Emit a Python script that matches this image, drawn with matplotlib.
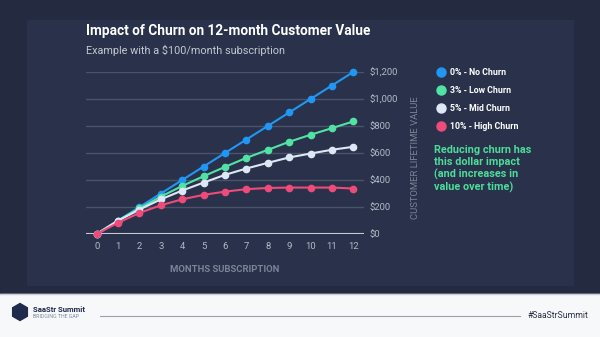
import matplotlib.pyplot as plt
from matplotlib.lines import Line2D
from matplotlib.patches import Rectangle, RegularPolygon

plt.rcParams['font.family'] = ['Roboto', 'DejaVu Sans']

# --- data ---
months = list(range(13))
no_churn = [0, 100, 200, 300, 400, 500, 600, 700, 800, 900, 1000, 1100, 1200]
low_churn = [0, 100, 190, 277, 356, 428, 497, 564, 623, 683, 735, 784, 834]
mid_churn = [0, 99, 181, 257, 322, 381, 438, 485, 527, 567, 596, 624, 646]
high_churn = [0, 84, 156, 213, 257, 290, 314, 332, 341, 344, 344, 344, 337]

series_labels = ["0% - No Churn", "3% - Low Churn", "5% - Mid Churn", "10% - High Churn"]
series_colors = ["#2196f3", "#50e3a4", "#dde8f7", "#ef4b7a"]
y_ticks = [0, 200, 400, 600, 800, 1000, 1200]
y_tick_labels = ["$0", "$200", "$400", "$600", "$800", "$1,000", "$1,200"]

W, H = 600, 337
fig = plt.figure(figsize=(6, 3.37), dpi=100)
fig.patch.set_facecolor("#242a3f")


def fx(px):
    return px / W


def fy(py):
    return 1 - py / H


# inner panel + footer (kept behind the axes)
fig.patches.append(Rectangle((fx(27), fy(285)), fx(546), (285 - 20) / H,
                             transform=fig.transFigure, color="#29324a", zorder=-5))
fig.patches.append(Rectangle((0, 0), 1, fy(294), transform=fig.transFigure,
                             color="#f7f8fa", zorder=-5))
fig.lines.append(Line2D([0, 1], [fy(294), fy(294)], transform=fig.transFigure,
                        color="#c9ced8", lw=1, zorder=-4))

fig.text(fx(86), fy(31), "Impact of Churn on 12-month Customer Value", color="white",
         fontsize=9.8, fontweight="bold", va="center", ha="left")
fig.text(fx(86), fy(50), "Example with a $100/month subscription", color="#c3c8d3",
         fontsize=7.8, va="center", ha="left")

ax = fig.add_axes([fx(86), fy(234), fx(278), (234 - 72) / H])
ax.set_facecolor("none")
ax.set_xlim(-0.5, 12.5)
ax.set_ylim(0, 1200)

all_series = [no_churn, low_churn, mid_churn, high_churn]
for vals, c in zip(all_series, series_colors):
    ax.plot(months, vals, color=c, lw=1.5, marker="o", markersize=4.5,
            clip_on=False, zorder=3)

for v in y_ticks[1:]:
    ax.axhline(v, color="#4a5369", lw=1, zorder=1)
ax.axhline(0, color="#c5cad4", lw=1.5, zorder=2)

for s in ax.spines.values():
    s.set_visible(False)
ax.yaxis.tick_right()
ax.set_yticks(y_ticks)
ax.set_yticklabels(y_tick_labels)
ax.set_xticks(months)
ax.tick_params(length=0, labelsize=6.8, colors="#b4b9c6")
ax.tick_params(axis="y", pad=4)
ax.tick_params(axis="x", pad=6)

fig.text(fx(225), fy(270), "MONTHS SUBSCRIPTION", color="#7b8397", fontsize=6.8,
         fontweight="bold", ha="center", va="center")
fig.text(fx(415), fy(158), "CUSTOMER LIFETIME VALUE", color="#7b8397", fontsize=6.8,
         rotation=90, ha="center", va="center")

handles = [Line2D([], [], marker="o", linestyle="none", markersize=6.5,
                  markerfacecolor=c, markeredgecolor=c) for c in series_colors]
leg = fig.legend(handles, series_labels, loc="upper left",
                 bbox_to_anchor=(fx(429), fy(60)), frameon=False, fontsize=6.3,
                 labelcolor="white", handletextpad=0.6, labelspacing=1.05,
                 handlelength=0.9)
for t in leg.get_texts():
    t.set_fontweight("bold")

fig.text(fx(434), fy(145), "Reducing churn has\nthis dollar impact\n(and increases in\nvalue over time)",
         color="#4ddc9a", fontsize=7.8, fontweight="bold", ha="left", va="top",
         linespacing=1.22)

# footer branding
fig.patches.append(RegularPolygon((0.20, (H - 312) / 100), numVertices=6, radius=0.085,
                                  orientation=0, transform=fig.dpi_scale_trans,
                                  color="#1f2c4c", zorder=2))
fig.text(fx(33), fy(309), "SaaStr Summit", color="#1f2c4c", fontsize=5.6,
         fontweight="bold", ha="left", va="center")
fig.text(fx(33), fy(316), "BRIDGING THE GAP", color="#7c8aa3", fontsize=3.8,
         ha="left", va="center")
fig.lines.append(Line2D([fx(100), fx(520)], [fy(316), fy(316)], transform=fig.transFigure,
                        color="#9aa1ae", lw=0.8))
fig.text(fx(588), fy(316), "#SaaStrSummit", color="#2a3245", fontsize=6.2,
         ha="right", va="center")

fig.savefig("out.png", dpi=100, facecolor=fig.get_facecolor())
